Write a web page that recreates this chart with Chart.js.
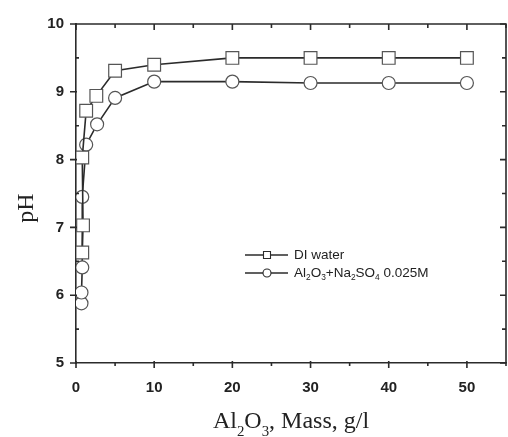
<!DOCTYPE html>
<html lang="en">
<head>
    <meta charset="UTF-8">
    <title>pH vs Al2O3 mass</title>
    <script src="https://cdn.jsdelivr.net/npm/chart.js@4.4.1/dist/chart.umd.min.js"></script>
    <style>
        body {
            margin: 0;
            background: #ffffff;
        }
        .wrap {
            position: relative;
            width: 508px;
            height: 437px;
        }
    </style>
</head>
<body>
    <div class="wrap">
        <canvas id="phChart"></canvas>
    </div>

    <script>
        // values
        const massDI = [0.8, 0.9, 0.8, 1.3, 2.6, 5, 10, 20, 30, 40, 50];
        const phDI = [6.63, 7.03, 8.03, 8.72, 8.94, 9.31, 9.4, 9.5, 9.5, 9.5, 9.5];

        const massNa = [0.7, 0.7, 0.8, 0.8, 1.3, 2.7, 5, 10, 20, 30, 40, 50];
        const phNa = [5.88, 6.04, 6.41, 7.45, 8.22, 8.52, 8.91, 9.15, 9.15, 9.13, 9.13, 9.13];

        const xTicks = [0, 10, 20, 30, 40, 50];
        const yTicks = [5, 6, 7, 8, 9, 10];

        const ink = '#2b2b2b';

        function toPoints(xs, ys) {
            return xs.map((x, i) => ({ x: x, y: ys[i] }));
        }

        // draw text with subscripts, parts = [[text, isSub], ...]
        function subText(ctx, parts, x, y, size, family, align) {
            let total = 0;
            parts.forEach(p => {
                ctx.font = (p[1] ? size * 0.62 : size) + 'px ' + family;
                total += ctx.measureText(p[0]).width;
            });
            let cx = align === 'center' ? x - total / 2 : x;
            parts.forEach(p => {
                ctx.font = (p[1] ? size * 0.62 : size) + 'px ' + family;
                ctx.fillText(p[0], cx, p[1] ? y + size * 0.32 : y);
                cx += ctx.measureText(p[0]).width;
            });
        }

        const framePlugin = {
            id: 'frame',
            afterDraw(chart) {
                const ctx = chart.ctx;
                const xs = chart.scales.x;
                const ys = chart.scales.y;
                const a = chart.chartArea;
                ctx.save();
                ctx.strokeStyle = ink;
                ctx.lineWidth = 1.6;
                // box top and right
                ctx.beginPath();
                ctx.moveTo(a.left, a.top);
                ctx.lineTo(a.right, a.top);
                ctx.lineTo(a.right, a.bottom);
                ctx.stroke();

                // x ticks: major every 10, minor every 5
                for (let v = 0; v <= 55; v += 5) {
                    const px = xs.getPixelForValue(v);
                    const major = v % 10 === 0;
                    ctx.beginPath();
                    ctx.moveTo(px, a.bottom + (major ? 5 : 3));
                    ctx.lineTo(px, a.bottom - (major ? 2 : 1));
                    ctx.moveTo(px, a.top);
                    ctx.lineTo(px, a.top + (major ? 6 : 4));
                    ctx.stroke();
                }
                // y ticks: major every 1, minor every 0.5
                for (let v = 5; v <= 10; v += 0.5) {
                    const py = ys.getPixelForValue(v);
                    const major = v % 1 === 0;
                    ctx.beginPath();
                    ctx.moveTo(a.left - (major ? 6 : 0), py);
                    ctx.lineTo(a.left + (major ? 1 : 3), py);
                    ctx.moveTo(a.right, py);
                    ctx.lineTo(a.right - (major ? 6 : 4), py);
                    ctx.stroke();
                }

                // axis titles
                ctx.fillStyle = '#222';
                ctx.textBaseline = 'alphabetic';
                ctx.textAlign = 'left';
                subText(ctx, [['Al', false], ['2', true], ['O', false], ['3', true], [', Mass, g/l', false]],
                    291, 428, 24, '"Liberation Serif", "Times New Roman", serif', 'center');

                ctx.save();
                ctx.translate(33, 208);
                ctx.rotate(-Math.PI / 2);
                ctx.font = '24px "Liberation Serif", "Times New Roman", serif';
                ctx.textAlign = 'center';
                ctx.fillText('pH', 0, 0);
                ctx.restore();

                // legend
                const lx = 245, rows = [255, 273];
                const sets = chart.data.datasets;
                rows.forEach((ry, i) => {
                    ctx.strokeStyle = ink;
                    ctx.lineWidth = 1.6;
                    ctx.beginPath();
                    ctx.moveTo(lx, ry);
                    ctx.lineTo(lx + 43, ry);
                    ctx.stroke();
                    ctx.fillStyle = '#fff';
                    ctx.lineWidth = 1.1;
                    ctx.beginPath();
                    if (sets[i].pointStyle === 'rect') {
                        ctx.rect(lx + 18.5, ry - 3.5, 7, 7);
                    } else {
                        ctx.arc(lx + 22, ry, 4, 0, Math.PI * 2);
                    }
                    ctx.fill();
                    ctx.stroke();
                });
                ctx.fillStyle = '#222';
                ctx.textBaseline = 'middle';
                ctx.textAlign = 'left';
                ctx.font = '13.5px "Liberation Sans", Arial, sans-serif';
                ctx.fillText('DI water', 294, rows[0]);
                subText(ctx, [['Al', false], ['2', true], ['O', false], ['3', true], ['+Na', false], ['2', true],
                    ['SO', false], ['4', true], [' 0.025M', false]], 294, rows[1], 13.5,
                    '"Liberation Sans", Arial, sans-serif', 'left');
                ctx.restore();
            }
        };

        const tickFont = { family: '"Liberation Sans", Arial, sans-serif', size: 15, weight: 'bold' };

        const ctx = document.getElementById('phChart').getContext('2d');
        const phChart = new Chart(ctx, {
            type: 'line',
            data: {
                datasets: [{
                    label: 'DI water',
                    data: toPoints(massDI, phDI),
                    borderColor: ink,
                    borderWidth: 1.6,
                    pointStyle: 'rect',
                    pointRadius: 9,
                    pointBorderWidth: 1.2,
                    pointBackgroundColor: '#fff',
                    pointBorderColor: '#555'
                }, {
                    label: 'Al2O3+Na2SO4 0.025M',
                    data: toPoints(massNa, phNa),
                    borderColor: ink,
                    borderWidth: 1.6,
                    pointStyle: 'circle',
                    pointRadius: 6.5,
                    pointBorderWidth: 1.2,
                    pointBackgroundColor: '#fff',
                    pointBorderColor: '#555'
                }]
            },
            options: {
                responsive: true,
                maintainAspectRatio: false,
                animation: false,
                layout: {
                    autoPadding: false,
                    padding: { left: 0, right: 2, top: 24, bottom: 0 }
                },
                plugins: {
                    legend: { display: false },
                    tooltip: { enabled: false }
                },
                scales: {
                    x: {
                        type: 'linear',
                        min: 0,
                        max: 55,
                        afterFit(scale) { scale.height = 74; },
                        afterBuildTicks(scale) {
                            scale.ticks = xTicks.map(v => ({ value: v }));
                        },
                        grid: { display: false },
                        border: { color: ink, width: 1.6 },
                        ticks: {
                            color: '#222',
                            padding: 8,
                            maxRotation: 0,
                            font: tickFont
                        }
                    },
                    y: {
                        min: 5,
                        max: 10,
                        afterFit(scale) { scale.width = 76; },
                        afterBuildTicks(scale) {
                            scale.ticks = yTicks.map(v => ({ value: v }));
                        },
                        grid: { display: false },
                        border: { color: ink, width: 1.6 },
                        ticks: {
                            color: '#222',
                            padding: 4,
                            font: tickFont
                        }
                    }
                }
            },
            plugins: [framePlugin]
        });
    </script>
</body>
</html>
